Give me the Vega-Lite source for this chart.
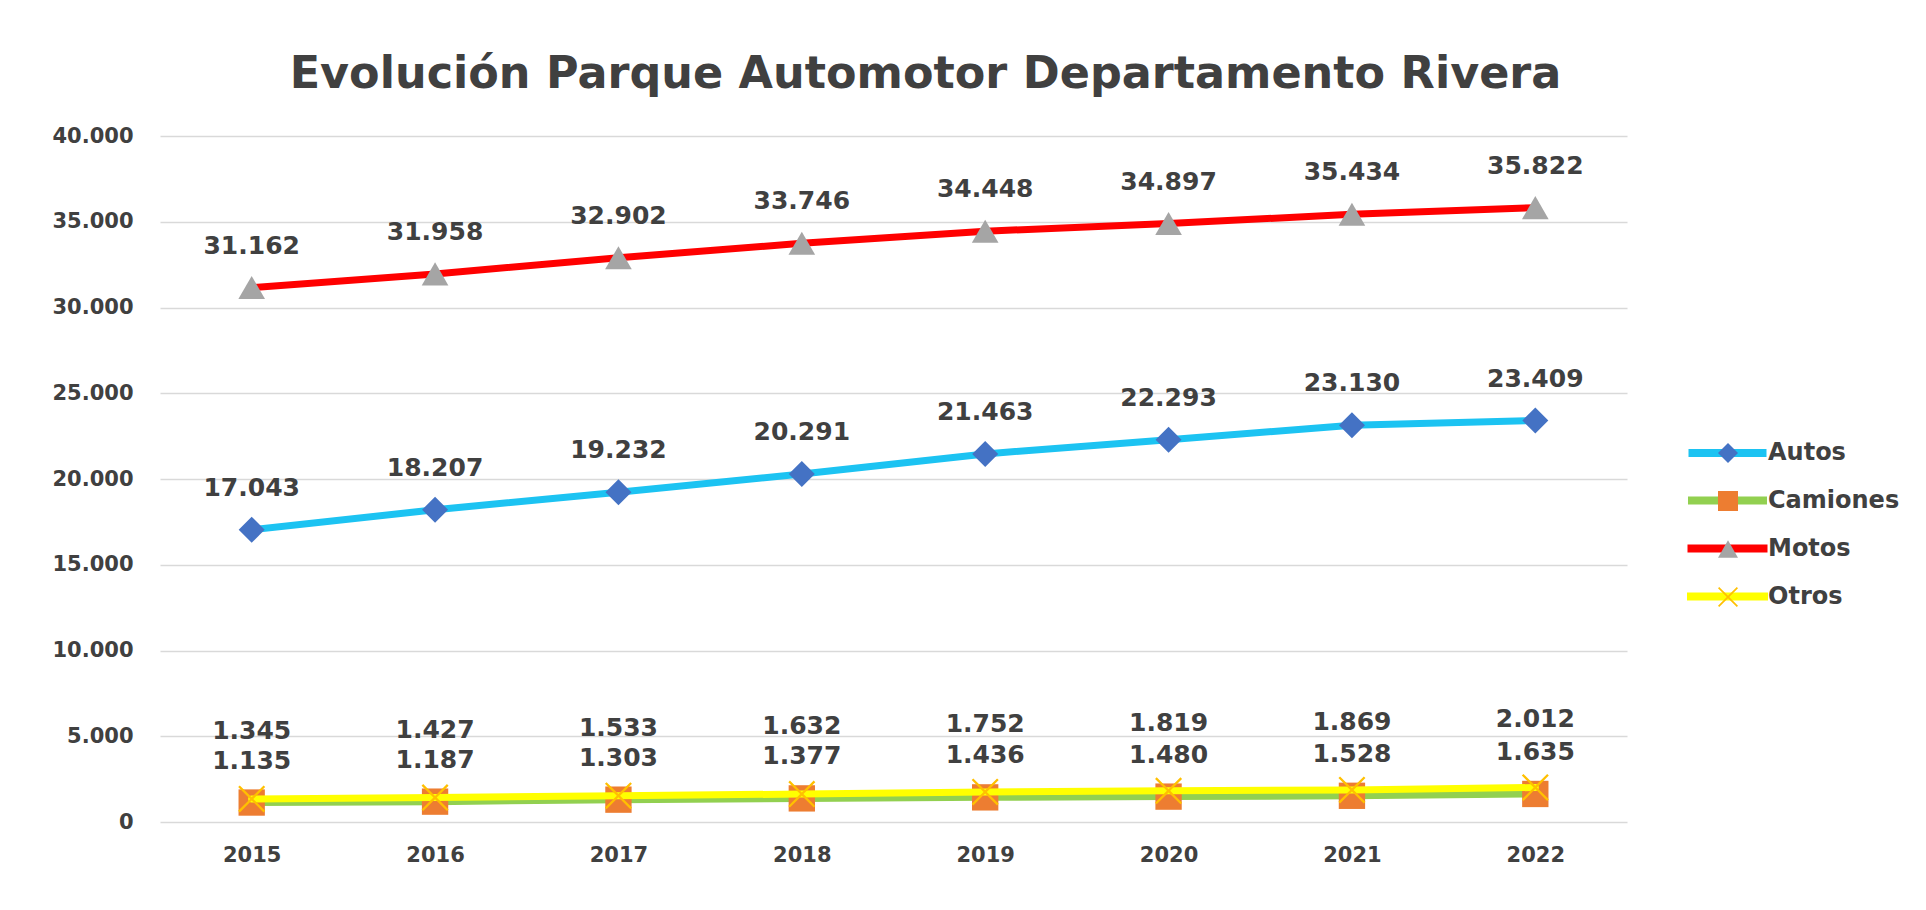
{
  "$schema": "https://vega.github.io/schema/vega-lite/v6.json",
  "width": 1467,
  "height": 686,
  "autosize": "none",
  "padding": {"left": 160, "top": 136, "right": 299, "bottom": 88},
  "background": "white",
  "title": {
    "text": "Evolución Parque Automotor Departamento Rivera",
    "font": "DejaVu Sans",
    "fontSize": 44.5,
    "fontWeight": "bold",
    "color": "#404040",
    "anchor": "middle",
    "frame": "group",
    "dx": 32,
    "offset": -7,
    "baseline": "alphabetic"
  },
  "config": {
    "locale": {"number": {"decimal": ",", "thousands": ".", "grouping": [3], "currency": ["$", ""]}},
    "view": {"stroke": null},
    "axis": {
      "labelFont": "DejaVu Sans",
      "labelFontWeight": "bold",
      "labelColor": "#404040",
      "labelFontSize": 21,
      "ticks": false,
      "domain": false,
      "title": null
    }
  },
  "data": {
    "values": [
      {"anio": 2015, "serie": "Autos", "valor": 17043},
      {"anio": 2016, "serie": "Autos", "valor": 18207},
      {"anio": 2017, "serie": "Autos", "valor": 19232},
      {"anio": 2018, "serie": "Autos", "valor": 20291},
      {"anio": 2019, "serie": "Autos", "valor": 21463},
      {"anio": 2020, "serie": "Autos", "valor": 22293},
      {"anio": 2021, "serie": "Autos", "valor": 23130},
      {"anio": 2022, "serie": "Autos", "valor": 23409},
      {"anio": 2015, "serie": "Camiones", "valor": 1135},
      {"anio": 2016, "serie": "Camiones", "valor": 1187},
      {"anio": 2017, "serie": "Camiones", "valor": 1303},
      {"anio": 2018, "serie": "Camiones", "valor": 1377},
      {"anio": 2019, "serie": "Camiones", "valor": 1436},
      {"anio": 2020, "serie": "Camiones", "valor": 1480},
      {"anio": 2021, "serie": "Camiones", "valor": 1528},
      {"anio": 2022, "serie": "Camiones", "valor": 1635},
      {"anio": 2015, "serie": "Motos", "valor": 31162},
      {"anio": 2016, "serie": "Motos", "valor": 31958},
      {"anio": 2017, "serie": "Motos", "valor": 32902},
      {"anio": 2018, "serie": "Motos", "valor": 33746},
      {"anio": 2019, "serie": "Motos", "valor": 34448},
      {"anio": 2020, "serie": "Motos", "valor": 34897},
      {"anio": 2021, "serie": "Motos", "valor": 35434},
      {"anio": 2022, "serie": "Motos", "valor": 35822},
      {"anio": 2015, "serie": "Otros", "valor": 1345},
      {"anio": 2016, "serie": "Otros", "valor": 1427},
      {"anio": 2017, "serie": "Otros", "valor": 1533},
      {"anio": 2018, "serie": "Otros", "valor": 1632},
      {"anio": 2019, "serie": "Otros", "valor": 1752},
      {"anio": 2020, "serie": "Otros", "valor": 1819},
      {"anio": 2021, "serie": "Otros", "valor": 1869},
      {"anio": 2022, "serie": "Otros", "valor": 2012}
    ]
  },
  "encoding": {
    "x": {
      "field": "anio",
      "type": "ordinal",
      "scale": {"type": "point", "padding": 0.5},
      "axis": {"labelAngle": 0, "labelPadding": 22, "grid": false}
    },
    "y": {
      "field": "valor",
      "type": "quantitative",
      "scale": {"domain": [0, 40000], "nice": false},
      "axis": {
        "values": [0, 5000, 10000, 15000, 20000, 25000, 30000, 35000, 40000],
        "format": ",d",
        "labelPadding": 27,
        "grid": true,
        "gridColor": "#D9D9D9",
        "gridWidth": 1.5
      }
    }
  },
  "layer": [
    {
      "transform": [{"filter": "datum.serie !== 'Otros'"}],
      "mark": {"type": "line", "strokeWidth": 7, "strokeCap": "round", "strokeJoin": "round"},
      "encoding": {
        "stroke": {
          "field": "serie",
          "type": "nominal",
          "scale": {"domain": ["Autos", "Camiones", "Motos", "Otros"], "range": ["#1CC3F2", "#92D050", "#FF0000", "#FFFF00"]},
          "legend": {
            "orient": "none",
            "legendX": 1550,
            "legendY": 300,
            "title": null,
            "symbolType": "M-3,0L3,0",
            "symbolSize": 576,
            "symbolStrokeWidth": 8,
            "symbolFillColor": "transparent",
            "labelExpr": "''",
            "labelFontSize": 24,
            "rowPadding": 14,
            "zindex": 0
          }
        }
      }
    },
    {
      "transform": [{"filter": "datum.serie !== 'Otros'"}],
      "mark": {"type": "point", "filled": true, "opacity": 1, "strokeWidth": 0},
      "encoding": {
        "fill": {
          "field": "serie",
          "type": "nominal",
          "scale": {"range": ["#4472C4", "#ED7D31", "#A5A5A5", "#FFC000"]},
          "legend": {
            "orient": "none",
            "legendX": 1556,
            "legendY": 305,
            "title": null,
            "symbolSize": 400,
            "symbolStrokeWidth": 0,
            "symbolOpacity": 1,
            "labelFont": "DejaVu Sans",
            "labelFontSize": 24,
            "labelFontWeight": "bold",
            "labelColor": "#404040",
            "labelOffset": 28,
            "rowPadding": 24,
            "zindex": 1
          }
        },
        "shape": {
          "field": "serie",
          "type": "nominal",
          "scale": {"range": ["diamond", "square", "triangle-up", "M-1,-0.88L-0.88,-1L0,-0.12L0.88,-1L1,-0.88L0.12,0L1,0.88L0.88,1L0,0.12L-0.88,1L-1,0.88L-0.12,0Z"]},
          "legend": {
            "orient": "none",
            "legendX": 1556,
            "legendY": 305,
            "title": null,
            "symbolSize": 400,
            "symbolStrokeWidth": 0,
            "symbolOpacity": 1,
            "labelFont": "DejaVu Sans",
            "labelFontSize": 24,
            "labelFontWeight": "bold",
            "labelColor": "#404040",
            "labelOffset": 28,
            "rowPadding": 24,
            "zindex": 1
          }
        },
        "size": {
          "field": "serie",
          "type": "nominal",
          "scale": {"domain": ["Autos", "Camiones", "Motos", "Otros"], "range": [676, 729, 850, 729]},
          "legend": null
        }
      }
    },
    {
      "transform": [{"filter": "datum.serie === 'Otros'"}],
      "mark": {"type": "line", "strokeWidth": 7, "strokeCap": "round", "strokeJoin": "round"},
      "encoding": {
        "stroke": {"field": "serie", "type": "nominal"}
      }
    },
    {
      "transform": [{"filter": "datum.serie === 'Otros'"}],
      "mark": {"type": "point", "filled": true, "opacity": 1, "strokeWidth": 0},
      "encoding": {
        "fill": {"field": "serie", "type": "nominal"},
        "shape": {"field": "serie", "type": "nominal"},
        "size": {"field": "serie", "type": "nominal", "legend": null}
      }
    },
    {
      "transform": [{"filter": "datum.serie !== 'Otros'"}],
      "mark": {"type": "text", "font": "DejaVu Sans", "fontWeight": "bold", "fontSize": 25, "color": "#404040", "baseline": "middle", "dy": -42},
      "encoding": {
        "text": {"field": "valor", "type": "quantitative", "format": ",d"}
      }
    },
    {
      "transform": [{"filter": "datum.serie === 'Otros'"}],
      "mark": {"type": "text", "font": "DejaVu Sans", "fontWeight": "bold", "fontSize": 25, "color": "#404040", "baseline": "middle", "dy": -68},
      "encoding": {
        "text": {"field": "valor", "type": "quantitative", "format": ",d"}
      }
    }
  ]
}
